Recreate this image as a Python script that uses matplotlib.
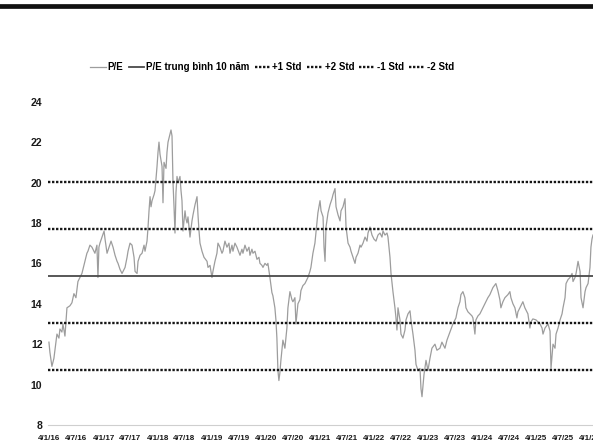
#!/usr/bin/env python3
"""
P/E chart with 10-year mean and +/-1, +/-2 standard deviation bands.
"""

import matplotlib

matplotlib.use("Agg")

import matplotlib.pyplot as plt
from matplotlib.lines import Line2D
import pandas as pd


OUTPUT_PATH = "out.png"

FONT = ["Liberation Sans", "DejaVu Sans"]

# P/E series (decimal year, value)
YEARS = [
    # 2016
    2016.000, 2016.018, 2016.055, 2016.092, 2016.111, 2016.148, 2016.185, 2016.203,
    2016.240, 2016.259, 2016.296, 2016.333, 2016.388, 2016.425, 2016.462, 2016.499,
    2016.536, 2016.573, 2016.610, 2016.647, 2016.665, 2016.702, 2016.721, 2016.758,
    2016.795, 2016.832, 2016.850, 2016.887, 2016.906, 2016.924, 2016.943, 2016.980,
    # 2017
    2017.017, 2017.035, 2017.072, 2017.109, 2017.146, 2017.183, 2017.220, 2017.257,
    2017.275, 2017.312, 2017.349, 2017.386, 2017.405, 2017.442, 2017.460, 2017.497,
    2017.534, 2017.571, 2017.590, 2017.627, 2017.645, 2017.682, 2017.719, 2017.756,
    2017.774, 2017.811, 2017.830, 2017.848, 2017.867, 2017.885, 2017.904, 2017.941,
    2017.959, 2017.996,
    # 2018
    2018.015, 2018.033, 2018.052, 2018.089, 2018.107, 2018.126, 2018.163, 2018.181,
    2018.200, 2018.237, 2018.255, 2018.274, 2018.292, 2018.311, 2018.329, 2018.347,
    2018.366, 2018.384, 2018.421, 2018.440, 2018.458, 2018.477, 2018.514, 2018.532,
    2018.551, 2018.569, 2018.606, 2018.625, 2018.643, 2018.662, 2018.699, 2018.736,
    2018.754, 2018.773, 2018.791, 2018.828, 2018.865, 2018.921, 2018.939, 2018.976,
    # 2019
    2019.013, 2019.031, 2019.068, 2019.105, 2019.124, 2019.161, 2019.198, 2019.216,
    2019.253, 2019.290, 2019.327, 2019.346, 2019.383, 2019.401, 2019.438, 2019.475,
    2019.531, 2019.567, 2019.586, 2019.623, 2019.660, 2019.697, 2019.715, 2019.752,
    2019.771, 2019.808, 2019.845, 2019.882, 2019.900, 2019.937, 2019.956, 2019.993,
    # 2020
    2020.029, 2020.048, 2020.085, 2020.122, 2020.140, 2020.177, 2020.196, 2020.214,
    2020.233, 2020.251, 2020.270, 2020.288, 2020.325, 2020.362, 2020.399, 2020.418,
    2020.455, 2020.492, 2020.510, 2020.547, 2020.566, 2020.603, 2020.639, 2020.658,
    2020.695, 2020.732, 2020.787, 2020.824, 2020.843, 2020.880, 2020.917, 2020.935,
    2020.972,
    # 2021
    2021.009, 2021.028, 2021.065, 2021.083, 2021.102, 2021.120, 2021.157, 2021.194,
    2021.231, 2021.249, 2021.286, 2021.305, 2021.342, 2021.379, 2021.397, 2021.434,
    2021.471, 2021.490, 2021.527, 2021.564, 2021.582, 2021.619, 2021.656, 2021.675,
    2021.711, 2021.748, 2021.767, 2021.804, 2021.841, 2021.878, 2021.896, 2021.933,
    2021.970,
    # 2022
    2022.007, 2022.044, 2022.081, 2022.118, 2022.155, 2022.174, 2022.211, 2022.248,
    2022.266, 2022.285, 2022.303, 2022.322, 2022.358, 2022.395, 2022.414, 2022.432,
    2022.451, 2022.488, 2022.506, 2022.543, 2022.580, 2022.599, 2022.636, 2022.673,
    2022.691, 2022.728, 2022.765, 2022.784, 2022.821, 2022.858, 2022.876, 2022.895,
    2022.932, 2022.969,
    # 2023
    2023.006, 2023.043, 2023.079, 2023.135, 2023.172, 2023.227, 2023.264, 2023.320,
    2023.357, 2023.412, 2023.467, 2023.523, 2023.560, 2023.597, 2023.615, 2023.652,
    2023.689, 2023.708, 2023.745, 2023.782, 2023.819, 2023.837, 2023.874, 2023.892,
    2023.930, 2023.966,
    # 2024
    2024.022, 2024.077, 2024.114, 2024.151, 2024.207, 2024.262, 2024.299, 2024.336,
    2024.355, 2024.392, 2024.429, 2024.484, 2024.521, 2024.540, 2024.577, 2024.614,
    2024.651, 2024.669, 2024.706, 2024.761, 2024.798, 2024.854, 2024.891, 2024.909,
    2024.946,
    # 2025
    2025.002, 2025.039, 2025.076, 2025.113, 2025.131, 2025.168, 2025.224, 2025.261,
    2025.279, 2025.316, 2025.353, 2025.372, 2025.409, 2025.446, 2025.483, 2025.501,
    2025.538, 2025.557, 2025.594, 2025.631, 2025.668, 2025.686, 2025.723, 2025.742,
    2025.779, 2025.816, 2025.834, 2025.871, 2025.908, 2025.927, 2025.964,
    # 2026
    2026.000, 2026.018, 2026.037, 2026.055,
]

PE = [
    # 2016
    12.1, 11.6, 10.9, 11.3, 11.7, 12.5, 12.3, 12.75,
    12.6, 13.0, 12.4, 13.8, 13.9, 14.05, 14.5, 14.3,
    15.1, 15.3, 15.5, 15.9, 16.1, 16.5, 16.6, 16.9,
    16.8, 16.6, 16.5, 16.9, 15.3, 16.8, 17.0, 17.3,
    # 2017
    17.6, 17.2, 16.5, 16.8, 17.1, 16.8, 16.4, 16.1,
    16.0, 15.7, 15.5, 15.7, 15.8, 16.3, 16.6, 17.0,
    16.9, 16.3, 15.6, 15.5, 16.1, 16.4, 16.5, 16.9,
    16.6, 17.1, 17.8, 18.6, 19.3, 18.8, 19.1, 19.4,
    19.6, 20.8,
    # 2018
    21.5, 22.0, 21.4, 20.8, 19.0, 21.0, 20.7, 21.5,
    22.0, 22.4, 22.6, 22.3, 20.0, 18.8, 17.5, 19.5,
    20.3, 20.0, 20.3, 19.6, 19.1, 17.6, 18.6, 18.2,
    18.0, 18.3, 17.3, 17.7, 18.1, 18.4, 18.9, 19.3,
    18.4, 17.6, 17.0, 16.6, 16.3, 16.1, 15.8, 15.9,
    # 2019
    15.3, 15.6, 16.1, 16.5, 17.0, 16.8, 16.5, 16.6,
    17.1, 16.8, 17.0, 16.5, 16.9, 16.6, 17.0, 16.8,
    16.4, 16.7, 16.5, 16.9, 16.6, 16.8, 16.4, 16.7,
    16.5, 16.6, 16.2, 16.3, 16.0, 15.9, 15.8, 16.0,
    # 2020
    15.9, 16.0, 15.3, 14.55, 14.4, 13.8, 13.2, 12.3,
    10.7, 10.2, 10.6, 11.2, 12.2, 11.8, 12.8, 13.8,
    14.6, 14.2, 14.1, 14.3, 13.0, 14.0, 14.2, 14.65,
    14.9, 15.0, 15.3, 15.6, 15.8, 16.5, 17.0, 17.5,
    18.5,
    # 2021
    19.1, 18.6, 18.3, 16.8, 16.1, 17.8, 18.5, 18.9,
    19.2, 19.4, 19.7, 18.8, 18.4, 18.1, 18.6, 18.8,
    19.2, 17.8, 17.0, 16.8, 16.6, 16.3, 16.0, 16.3,
    16.5, 16.9, 16.8, 17.0, 17.3, 17.1, 17.5, 17.8,
    17.4,
    # 2022
    17.2, 17.1, 17.4, 17.5, 17.3, 17.6, 17.4, 17.5,
    17.3, 16.8, 16.3, 15.5, 14.6, 13.8, 13.3, 12.7,
    13.8, 13.2, 12.5, 12.3, 12.7, 13.2, 13.5, 13.65,
    13.2, 12.5, 11.7, 11.0, 10.7, 10.8, 9.8, 9.4,
    10.5, 11.2,
    # 2023
    10.7, 11.3, 11.8, 12.0, 11.7, 11.8, 12.1, 11.8,
    12.2, 12.6, 13.0, 13.3, 13.8, 14.1, 14.45, 14.6,
    14.3, 13.8, 13.6, 13.5, 13.4, 13.3, 12.5, 13.2,
    13.4, 13.5,
    # 2024
    13.8, 14.1, 14.3, 14.45, 14.8, 15.0, 14.65, 14.2,
    13.8, 14.1, 14.3, 14.45, 14.6, 14.3, 14.0, 13.8,
    13.3, 13.6, 13.8, 14.1, 13.8, 13.5, 12.8, 13.1,
    13.25,
    # 2025
    13.2, 13.1, 13.0, 12.8, 12.5, 12.8, 13.0, 12.65,
    10.8, 12.0, 11.8, 12.5, 12.8, 13.2, 13.5, 13.8,
    14.3, 15.0, 15.2, 15.3, 15.5, 15.1, 15.3, 15.5,
    16.1, 15.6, 14.3, 13.8, 14.6, 14.8, 15.0,
    # 2026
    15.8, 16.8, 17.2, 17.4,
]

PE_MEAN = 15.37
PE_STD = 2.33

TICK_DATES = [
    "2016-01-04", "2016-07-04", "2017-01-04", "2017-07-04", "2018-01-04",
    "2018-07-04", "2019-01-04", "2019-07-04", "2020-01-04", "2020-07-04",
    "2021-01-04", "2021-07-04", "2022-01-04", "2022-07-04", "2023-01-04",
    "2023-07-04", "2024-01-04", "2024-07-04", "2025-01-04", "2025-07-04",
    "2026-01-04",
]
TICK_LABELS = [
    "4/1/16", "4/7/16", "4/1/17", "4/7/17", "4/1/18",
    "4/7/18", "4/1/19", "4/7/19", "4/1/20", "4/7/20",
    "4/1/21", "4/7/21", "4/1/22", "4/7/22", "4/1/23",
    "4/7/23", "4/1/24", "4/7/24", "4/1/25", "4/7/25",
    "4/1/26",
]
Y_TICKS = [8, 10, 12, 14, 16, 18, 20, 22, 24]


def year_to_date(y):
    base = pd.Timestamp(int(y), 1, 1)
    return base + pd.Timedelta(days=(y - int(y)) * 365.25)


def main():
    dates = [year_to_date(y) for y in YEARS]

    fig = plt.figure(figsize=(5.93, 4.48), dpi=100)
    fig.patch.set_facecolor("white")
    ax = fig.add_axes([48 / 593, 23 / 448, 545 / 593, 323.3 / 448])

    line_pe, = ax.plot(dates, PE, color="#9d9d9d", lw=0.9, label="P/E")
    line_mean = ax.axhline(PE_MEAN, color="#4a4a4a", lw=1.3, label="P/E trung bình 10 năm")

    dotted = dict(color="#151515", lw=1.7, linestyle=(0, (1, 0.7)))
    line_p1 = ax.axhline(PE_MEAN + PE_STD, label="+1 Std", **dotted)
    line_p2 = ax.axhline(PE_MEAN + 2 * PE_STD, label="+2 Std", **dotted)
    line_m1 = ax.axhline(PE_MEAN - PE_STD, label="-1 Std", **dotted)
    line_m2 = ax.axhline(PE_MEAN - 2 * PE_STD, label="-2 Std", **dotted)

    ax.set_xlim(year_to_date(2015.982), year_to_date(2026.056))
    ax.set_ylim(8, 24)

    ax.set_xticks([pd.Timestamp(d) for d in TICK_DATES])
    ax.set_xticklabels(TICK_LABELS)
    ax.set_yticks(Y_TICKS)
    ax.set_yticklabels([str(v) for v in Y_TICKS])

    for lab in ax.get_xticklabels():
        lab.set_family(FONT)
        lab.set_fontweight("bold")
        lab.set_fontsize(5.8)
        lab.set_color("#1a1a1a")
    for lab in ax.get_yticklabels():
        lab.set_family(FONT)
        lab.set_fontweight("bold")
        lab.set_fontsize(7.6)
        lab.set_color("#1a1a1a")

    ax.tick_params(axis="both", length=0)
    ax.tick_params(axis="x", pad=7)
    ax.tick_params(axis="y", pad=4)
    for side in ("top", "left", "right"):
        ax.spines[side].set_visible(False)
    ax.spines["bottom"].set_color("#cfcfcf")
    ax.spines["bottom"].set_linewidth(0.8)

    handles = [line_pe, line_mean, line_p1, line_p2, line_m1, line_m2]
    fig.legend(
        handles,
        [h.get_label() for h in handles],
        loc="center",
        bbox_to_anchor=(272 / 593, 1 - 67 / 448),
        ncol=6,
        frameon=False,
        handlelength=1.6,
        handletextpad=0.2,
        columnspacing=0.55,
        prop={"family": FONT, "weight": "bold", "size": 7.0},
    )

    # thick black rule from the scanned page
    fig.add_artist(Line2D([0, 1], [1 - 6 / 448, 1 - 6 / 448], color="#111111", lw=3.4,
                          transform=fig.transFigure))

    fig.savefig(OUTPUT_PATH, dpi=100, facecolor="white")
    plt.close(fig)


if __name__ == "__main__":
    main()
